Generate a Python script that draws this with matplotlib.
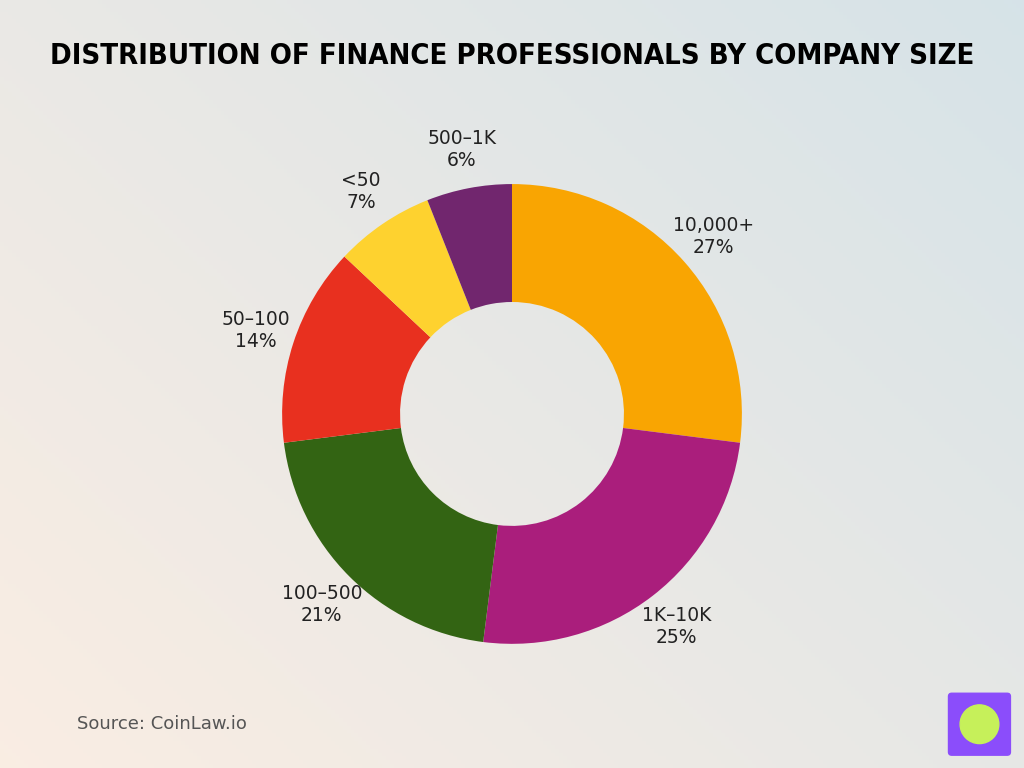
import numpy as np
import matplotlib.pyplot as plt
from matplotlib.patches import FancyBboxPatch, Circle

categories = ["10,000+", "1K\u201310K", "100\u2013500", "50\u2013100", "<50", "500\u20131K"]
shares = [27, 25, 21, 14, 7, 6]
colors = ["#F9A502", "#AA1E7C", "#336413", "#E8301F", "#FED22F", "#71266E"]

fig = plt.figure(figsize=(10.24, 7.68), dpi=100)

# background gradient
bg = fig.add_axes([0, 0, 1, 1])
h, w = 200, 260
yy, xx = np.mgrid[0:1:h * 1j, 0:1:w * 1j]
warm = np.array([0.98, 0.93, 0.89])
cool = np.array([0.84, 0.89, 0.91])
t = np.clip(0.55 * xx + 0.45 * (1 - yy), 0, 1)[..., None]
img = warm * (1 - t) + cool * t
bg.imshow(img, extent=[0, 1, 0, 1], aspect="auto", origin="upper")
bg.axis("off")

ax = fig.add_axes([0.5 - 345 / 1024, 0.461 - 0.449, 690 / 1024, 0.898])
wedges, _ = ax.pie(shares, colors=colors, startangle=90, counterclock=False,
                   wedgeprops=dict(width=0.513, edgecolor="none"), radius=1.0)
for wd, cat, val in zip(wedges, categories, shares):
    ang = np.deg2rad((wd.theta1 + wd.theta2) / 2)
    r = 1.17
    ax.text(r * np.cos(ang), r * np.sin(ang), f"{cat}\n{val}%", ha="center",
            va="center", fontsize=13.5, color="#222222", linespacing=1.2)
ax.set_xlim(-1.5, 1.5)
ax.set_ylim(-1.5, 1.5)
ax.set_aspect("equal")
ax.axis("off")

fig.text(0.5, 0.927, "DISTRIBUTION OF FINANCE PROFESSIONALS BY COMPANY SIZE",
         ha="center", va="center", fontsize=21, fontweight="bold",
         fontstretch="condensed", color="black")
fig.text(0.075, 0.057, "Source: CoinLaw.io", fontsize=13, color="#555555", va="center")

logo = fig.add_axes([0.925, 0.015, 0.063, 0.084])
logo.add_patch(FancyBboxPatch((0.02, 0.02), 0.96, 0.96, boxstyle="round,pad=0,rounding_size=0.05",
                              color="#8B4DFB"))
logo.add_patch(Circle((0.5, 0.5), 0.3, color="#C6F05A"))
logo.set_xlim(0, 1)
logo.set_ylim(0, 1)
logo.axis("off")

fig.savefig("out.png", dpi=100)
